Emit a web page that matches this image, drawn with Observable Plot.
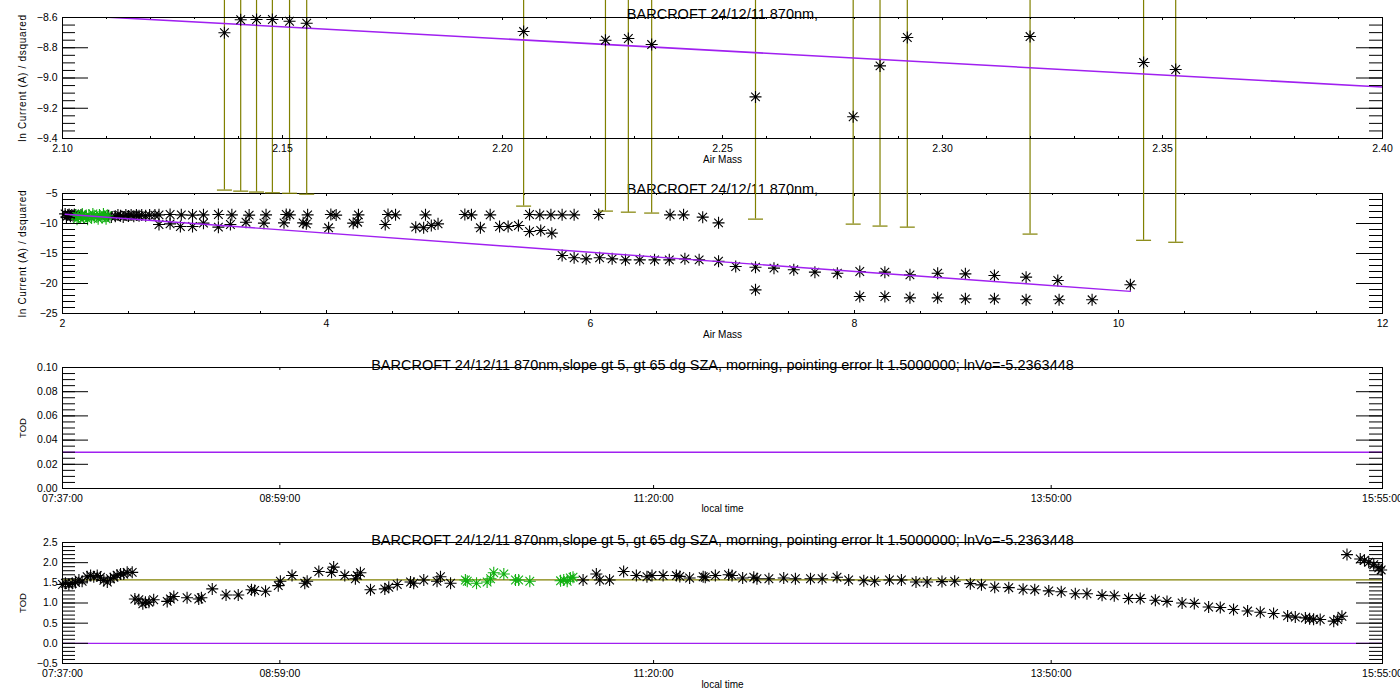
<!DOCTYPE html>
<html><head><meta charset="utf-8">
<script src="https://cdn.jsdelivr.net/npm/d3@7"></script>
<script src="https://cdn.jsdelivr.net/npm/@observablehq/plot@0.6"></script>
<style>
html,body{margin:0;padding:0;background:#fff;}
#chart{position:relative;width:1400px;height:700px;overflow:hidden;background:#fff;}
.panel{position:absolute;left:0;}
</style></head><body><div id="chart"></div>
<script>
// ---------- data ----------
const titleShort = "BARCROFT 24/12/11 870nm,";
const titleLong = "BARCROFT 24/12/11 870nm,slope gt 5, gt 65 dg SZA, morning, pointing error lt 1.5000000; lnVo=-5.2363448";
const yLabelCurrent = "ln Current (A) / dsquared";
const yLabelTod = "TOD";
const xLabelAirMass = "Air Mass";
const xLabelTime = "local time";

// fit: ln I = lnVo - tau * m
const lnVo = -5.2363448;
const tauSlope = 1.593;
const fitAirMassRange = [2.02, 10.09];

// panel 1 (zoom of low air mass) points with error bars
const amP1 = [2.1368, 2.1405, 2.1441, 2.1477, 2.1516, 2.1555, 2.2048, 2.2234, 2.2286, 2.2339, 2.2575, 2.2797, 2.2858, 2.2920, 2.3199, 2.3457, 2.3530];
const lnP1 = [-8.701, -8.615, -8.613, -8.613, -8.625, -8.638, -8.693, -8.750, -8.739, -8.779, -9.125, -9.256, -8.920, -8.732, -8.726, -8.898, -8.944];
const lnErrLow = [-9.741, -9.748, -9.754, -9.759, -9.762, -9.768, -9.847, -9.880, -9.887, -9.893, -9.933, -9.966, -9.979, -9.986, -10.032, -10.073, -10.086];
const lnErrHigh = [-7.540, -7.546, -7.552, -7.558, -7.564, -7.570, -7.649, -7.678, -7.686, -7.695, -7.732, -7.768, -7.778, -7.787, -7.832, -7.873, -7.885];

// panel 2 points
const amP2Black = [2.02,2.03,2.04,2.05,2.06,2.07,2.08,2.09,2.10,2.12,2.14,2.15,2.35,2.37,2.40,2.42,2.44,2.46,2.48,2.50,2.52,2.54,2.56,2.58,2.60,2.63,2.66,2.70,
  2.731,2.815,2.900,2.985,3.068,3.181,3.283,3.414,3.542,3.695,3.722,3.857,4.033,4.073,4.242,4.466,4.523,4.750,5.048,5.098,5.240,5.538,5.616,5.700,5.785,5.876,6.062,6.603,6.705,6.85,6.97,
  2.731,2.815,2.893,2.985,3.068,3.181,3.272,3.390,3.526,3.678,3.823,3.847,4.016,4.202,4.236,4.445,4.676,4.736,4.794,4.845,5.166,5.311,5.376,5.454,5.538,5.623,5.707,
  5.785,5.876,5.967,6.069,6.164,6.265,6.373,6.485,6.597,6.715,6.823,
  6.97,7.10,7.25,7.39,7.54,7.70,7.87,8.04,8.23,8.42,8.63,8.84,9.06,9.30,9.54,10.09,
  7.25,8.04,8.23,8.42,8.63,8.84,9.06,9.30,9.55,9.80];
const lnP2Black = [-8.4,-8.9,-8.6,-8.5,-8.8,-8.6,-8.7,-8.5,-8.6,-8.7,-8.6,-8.65,-8.7,-8.9,-8.8,-8.6,-8.7,-8.9,-8.6,-8.75,-8.6,-8.8,-8.6,-8.7,-8.6,-8.7,-8.6,-8.6,
  -8.56,-8.5,-8.56,-8.6,-8.56,-8.5,-8.56,-8.6,-8.56,-8.5,-8.56,-8.56,-8.5,-8.6,-8.56,-8.5,-8.56,-8.56,-8.5,-8.56,-8.56,-8.5,-8.56,-8.56,-8.56,-8.56,-8.5,-8.56,-8.56,-8.94,-9.89,
  -10.17,-10.06,-10.5,-10.5,-9.94,-10.61,-10.17,-9.78,-9.94,-9.89,-9.89,-10.06,-10.72,-9.94,-9.78,-10.17,-10.61,-10.72,-10.33,-10.06,-10.72,-10.5,-10.5,-10.33,-11.33,-11.17,-11.61,
  -15.33,-15.72,-15.89,-15.72,-15.89,-16.06,-16.06,-16.06,-16.06,-15.89,-16.06,
  -16.28,-17.17,-17.28,-17.44,-17.72,-18.11,-18.28,-18.0,-18.11,-18.56,-18.28,-18.39,-18.67,-18.94,-19.5,-20.22,
  -21.06,-22.17,-22.17,-22.39,-22.39,-22.56,-22.56,-22.72,-22.72,-22.72];
const amP2Green = [2.10,2.11,2.12,2.14,2.15,2.16,2.18,2.19,2.20,2.22,2.23,2.24,2.26,2.27,2.28,2.30,2.31,2.32,2.33,2.34];
const lnP2Green = [-8.6,-9.3,-8.9,-8.7,-8.4,-9.1,-8.8,-9.3,-8.6,-9.0,-8.4,-8.7,-8.9,-9.2,-8.6,-9.0,-8.4,-8.8,-9.2,-8.7];

// panel 3 line
const todLevel3 = 0.03;

// panel 4 (local time in minutes since midnight)
const todTimeBlack = [457.0,458.1,459.4,460.7,461.9,463.2,464.4,466.3,467.6,468.8,470.1,471.3,472.6,473.9,475.1,476.4,477.6,478.9,480.1,481.4,483.3,484.3,485.8,487.3,488.3,489.6,491.4,496.5,497.7,499.0,504.0,508.4,509.4,513.5,518.7,523.3,528.3,529.5,533.6,538.4,539.2,543.6,548.4,549.3,553.7,558.5,559.3,563.5,567.5,568.2,569.4,573.2,578.6,580.1,583.3,588.3,589.5,593.3,598.3,599.6,603.4,
  653.4,658.4,659.7,663.4,668.7,673.5,677.5,679.4,683.6,688.6,689.9,693.6,698.7,699.5,703.3,708.3,709.6,713.6,717.8,719.0,723.5,729.1,733.5,739.2,743.6,749.2,753.6,759.3,763.4,769.0,773.5,779.0,783.2,788.8,793.6,799.5,803.7,808.7,814.0,819.4,823.8,829.1,833.8,839.1,843.5,849.2,853.8,859.2,863.6,869.3,873.7,879.4,884.0,889.4,893.8,898.8,904.1,908.9,913.9,919.2,922.1,925.9,927.5,929.0,931.5,936.6,938.1,939.7,941.6,946.6,948.2,949.8,951.7,953.6,954.5];
const todValueBlack = [1.46,1.49,1.46,1.49,1.51,1.57,1.54,1.65,1.68,1.65,1.68,1.64,1.56,1.52,1.60,1.64,1.69,1.72,1.72,1.76,1.76,1.10,1.08,0.98,1.02,1.02,1.08,1.04,1.10,1.16,1.13,1.10,1.13,1.35,1.20,1.20,1.33,1.31,1.29,1.43,1.54,1.68,1.49,1.54,1.78,1.76,1.89,1.68,1.60,1.68,1.75,1.33,1.35,1.39,1.46,1.52,1.49,1.57,1.54,1.65,1.49,
  1.57,1.72,1.57,1.57,1.78,1.68,1.65,1.68,1.68,1.68,1.66,1.62,1.65,1.64,1.68,1.70,1.68,1.62,1.64,1.60,1.60,1.62,1.60,1.60,1.60,1.64,1.57,1.55,1.54,1.57,1.57,1.52,1.52,1.53,1.54,1.48,1.45,1.39,1.38,1.34,1.33,1.30,1.28,1.23,1.23,1.19,1.18,1.11,1.11,1.07,1.04,1.00,0.99,0.90,0.89,0.84,0.80,0.77,0.74,0.68,0.65,0.63,0.61,0.60,0.59,0.55,0.59,0.67,2.20,2.09,2.06,2.01,1.95,1.87,1.82];
const todTimeGreen = [609.0,609.7,613.2,617.2,618.5,619.7,623.5,627.9,629.1,633.3,644.9,646.1,647.4,648.6,649.6];
const todValueGreen = [1.57,1.54,1.49,1.52,1.60,1.75,1.72,1.57,1.57,1.54,1.55,1.57,1.54,1.62,1.64];
const todOliveLevel = 1.574;
const todZeroLevel = 0.0;

// ticks
const p1XTicks = [2.10, 2.15, 2.20, 2.25, 2.30, 2.35, 2.40];
const p1YTicks = [-9.4, -9.2, -9.0, -8.8, -8.6];
const p2XTicks = [2, 4, 6, 8, 10, 12];
const p2YTicks = [-25, -20, -15, -10, -5];
const p3YTicks = [0.00, 0.02, 0.04, 0.06, 0.08, 0.10];
const p4YTicks = [-0.5, 0.0, 0.5, 1.0, 1.5, 2.0, 2.5];
const timeTickLabels = ["07:37:00", "08:59:00", "11:20:00", "13:50:00", "15:55:00"];
const timeDomainLabels = ["07:37:00", "15:55:00"];

// ---------- helpers ----------
const FONT = '"Liberation Sans", Arial, Helvetica, sans-serif';
const PURPLE = "#a020f0", OLIVE = "#808000", GREEN = "#10b010";
const toMin = s => { const [h, m] = s.split(":").map(Number); return h * 60 + m; };
const pad = n => String(n).padStart(2, "0");
const fmtTime = m => `${pad(Math.floor(m / 60))}:${pad(Math.round(m % 60))}:00`;
const timeTicks = timeTickLabels.map(toMin);
const timeDomain = timeDomainLabels.map(toMin);

const asterisk = {draw(ctx, size) {
  const r = Math.sqrt(size / Math.PI), d = r * 0.72;
  ctx.moveTo(-r, 0); ctx.lineTo(r, 0);
  ctx.moveTo(0, -r); ctx.lineTo(0, r);
  ctx.moveTo(-d, -d); ctx.lineTo(d, d);
  ctx.moveTo(-d, d); ctx.lineTo(d, -d);
}};
const capBar = {draw(ctx, size) {
  const r = Math.sqrt(size / Math.PI);
  ctx.moveTo(-r, 0); ctx.lineTo(r, 0);
}};

const p1 = amP1.map((a, i) => ({am: a, ln: lnP1[i], lo: lnErrLow[i], hi: lnErrHigh[i]}));
const p2Black = amP2Black.map((a, i) => ({am: a, ln: lnP2Black[i]}));
const p2Green = amP2Green.map((a, i) => ({am: a, ln: lnP2Green[i]}));
const fitLine = fitAirMassRange.map(m => ({am: m, ln: lnVo - tauSlope * m}));
const p4Black = todTimeBlack.map((t, i) => ({t, v: todValueBlack[i]}));
const p4Green = todTimeGreen.map((t, i) => ({t, v: todValueGreen[i]}));

const stars = (data, x, y, color) => Plot.dot(data, {x, y, symbol: asterisk, r: 6, stroke: color, fill: "none", strokeWidth: 1.1});

function panel(o) {
  const fw = 1320, fh = o.height - o.marginTop - o.marginBottom;
  const marks = [
    ...o.marks,
    Plot.tickY(o.yMajor, {y: d => d, insetRight: fw - 26, stroke: "black"}),
    Plot.tickY(o.yMajor, {y: d => d, insetLeft: fw - 26, stroke: "black"}),
    Plot.tickY(o.yMinor, {y: d => d, insetRight: fw - 13, stroke: "black"}),
    Plot.tickY(o.yMinor, {y: d => d, insetLeft: fw - 13, stroke: "black"}),
    Plot.tickX(o.xMajor, {x: d => d, insetTop: fh - 3, stroke: "black"}),
    Plot.tickX(o.xMajor, {x: d => d, insetBottom: fh - 3, stroke: "black"}),
  ];
  if (o.xMinor) {
    marks.push(Plot.tickX(o.xMinor, {x: d => d, insetTop: fh - 2, stroke: "black"}));
    marks.push(Plot.tickX(o.xMinor, {x: d => d, insetBottom: fh - 2, stroke: "black"}));
  }
  marks.push(
    Plot.frame({stroke: "black"}),
    Plot.axisX(o.xMajor, {tickSize: 0, tickPadding: 6, tickFormat: o.xFormat, label: null, fontSize: 10.5}),
    Plot.axisY(o.yMajor, {tickSize: 0, tickPadding: 5, tickFormat: o.yFormat, label: null, fontSize: 10.5}),
    Plot.text([o.title], {frameAnchor: "top", dy: o.titleDy, fontSize: 14.5}),
    Plot.text([o.xLabel], {frameAnchor: "bottom", dy: o.xLabelDy, fontSize: 10}),
    Plot.text([o.yLabel], {frameAnchor: "left", dx: -40, rotate: -90, textAnchor: "middle", fontSize: o.yLabelSize})
  );
  const svg = Plot.plot({
    width: 1400, height: o.height,
    marginLeft: 62, marginRight: 18, marginTop: o.marginTop, marginBottom: o.marginBottom,
    x: {domain: o.xDomain, label: null},
    y: {domain: o.yDomain, label: null},
    style: {background: "transparent", overflow: "visible", fontFamily: FONT, fontSize: "10.5px", color: "black"},
    marks
  });
  svg.style.overflow = "visible";
  svg.style.background = "transparent";
  d3.select(svg).selectAll("text").filter(function () { return this.textContent === o.yLabel; })
    .style("letter-spacing", o.yLabelSpacing + "px");
  const wrap = document.createElement("div");
  wrap.className = "panel";
  wrap.style.top = o.top + "px";
  wrap.style.zIndex = o.z;
  wrap.appendChild(svg);
  document.getElementById("chart").appendChild(wrap);
}

// panel 1
panel({
  top: 0, height: 170, marginTop: 17, marginBottom: 32, z: 4,
  xDomain: [2.10, 2.40], yDomain: [-9.4, -8.6],
  xMajor: p1XTicks, xMinor: d3.range(210, 241).map(i => i / 100),
  yMajor: p1YTicks, yMinor: d3.range(-188, -171).map(i => i / 20),
  xFormat: d3.format(".2f"), yFormat: d3.format(".1f"),
  title: titleShort, titleDy: -9, xLabel: xLabelAirMass, xLabelDy: 24,
  yLabel: yLabelCurrent, yLabelSize: 10, yLabelSpacing: 0.7,
  marks: [
    Plot.ruleX(p1, {x: "am", y1: "lo", y2: "hi", stroke: OLIVE, strokeWidth: 1.2}),
    Plot.dot(p1, {x: "am", y: "lo", symbol: capBar, r: 7.5, stroke: OLIVE, fill: "none", strokeWidth: 1.2}),
    Plot.dot(p1, {x: "am", y: "hi", symbol: capBar, r: 7.5, stroke: OLIVE, fill: "none", strokeWidth: 1.2}),
    Plot.line(fitLine, {x: "am", y: "ln", stroke: PURPLE, strokeWidth: 1.6, clip: true}),
    stars(p1, "am", "ln", "black")
  ]
});

// panel 2
panel({
  top: 170, height: 170, marginTop: 23, marginBottom: 27, z: 3,
  xDomain: [2, 12], yDomain: [-25, -5],
  xMajor: p2XTicks, xMinor: d3.range(4, 25).map(i => i / 2),
  yMajor: p2YTicks, yMinor: d3.range(-25, -4),
  xFormat: d3.format("d"), yFormat: d3.format("d"),
  title: titleShort, titleDy: -10, xLabel: xLabelAirMass, xLabelDy: 24,
  yLabel: yLabelCurrent, yLabelSize: 10, yLabelSpacing: 0.7,
  marks: [
    stars(p2Black, "am", "ln", "black"),
    stars(p2Green, "am", "ln", GREEN),
    Plot.line(fitLine, {x: "am", y: "ln", stroke: PURPLE, strokeWidth: 1.4, clip: true})
  ]
});

// panel 3
panel({
  top: 345, height: 175, marginTop: 22, marginBottom: 32, z: 2,
  xDomain: timeDomain, yDomain: [0, 0.10],
  xMajor: timeTicks, xMinor: null,
  yMajor: p3YTicks, yMinor: d3.range(0, 21).map(i => i / 200),
  xFormat: fmtTime, yFormat: d3.format(".2f"),
  title: titleLong, titleDy: -8, xLabel: xLabelTime, xLabelDy: 23,
  yLabel: yLabelTod, yLabelSize: 9.5, yLabelSpacing: 0,
  marks: [
    Plot.ruleY([todLevel3], {stroke: PURPLE, strokeWidth: 1.4})
  ]
});

// panel 4
panel({
  top: 520, height: 180, marginTop: 22, marginBottom: 37, z: 1,
  xDomain: timeDomain, yDomain: [-0.5, 2.5],
  xMajor: timeTicks, xMinor: null,
  yMajor: p4YTicks, yMinor: d3.range(-5, 26).map(i => i / 10),
  xFormat: fmtTime, yFormat: d3.format(".1f"),
  title: titleLong, titleDy: -8, xLabel: xLabelTime, xLabelDy: 24,
  yLabel: yLabelTod, yLabelSize: 9.5, yLabelSpacing: 0,
  marks: [
    Plot.ruleY([todOliveLevel], {stroke: OLIVE, strokeWidth: 1.4}),
    Plot.ruleY([todZeroLevel], {stroke: PURPLE, strokeWidth: 1.4}),
    stars(p4Black, "t", "v", "black"),
    stars(p4Green, "t", "v", GREEN)
  ]
});
</script></body></html>
